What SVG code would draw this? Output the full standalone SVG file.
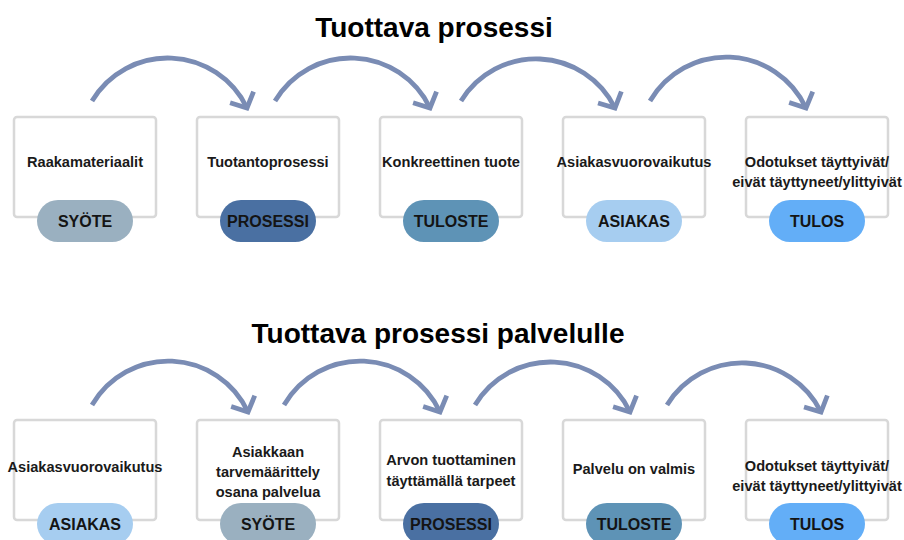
<svg xmlns="http://www.w3.org/2000/svg" width="904" height="540" viewBox="0 0 904 540">
<defs>
<style>
.title{font-family:"Liberation Sans",Arial,sans-serif;font-weight:bold;font-size:28px;fill:#000;text-anchor:middle}
.box{fill:#fff;stroke:#d8d8d8;stroke-width:2.5}
.lbl{font-family:"Liberation Sans",Arial,sans-serif;font-weight:bold;font-size:14.6px;fill:#1a1a1a;text-anchor:middle}
.pl{font-family:"Liberation Sans",Arial,sans-serif;font-weight:bold;font-size:16px;fill:#141414;text-anchor:middle}
.arc{fill:none;stroke:#7a8cb4;stroke-width:4.8;marker-end:url(#chev)}
.syote{fill:#9ab0c0}.prosessi{fill:#4a70a2}.tuloste{fill:#5e93b6}.asiakas{fill:#a6cdf0}.tulos{fill:#63aef7}
</style>
<marker id="chev" markerUnits="userSpaceOnUse" viewBox="-18 -18 22 36" markerWidth="22" markerHeight="36" refX="0" refY="0" orient="auto">
<path d="M-12,-13 L0,0 L-12,13" fill="none" stroke="#7a8cb4" stroke-width="4.8"/>
</marker>
</defs>
<rect width="904" height="540" fill="#fff"/>
<text class="title" x="434" y="37">Tuottava prosessi</text>
<text class="title" x="438" y="343">Tuottava prosessi palvelulle</text>

<g id="connectors">
<path class="arc" d="M92,101 A88,88 0 0 1 247,108"/>
<path class="arc" d="M275,101 A88,88 0 0 1 430,108"/>
<path class="arc" d="M461,101 A88,88 0 0 1 615,108"/>
<path class="arc" d="M650,101 A88,88 0 0 1 806,108"/>
<path class="arc" d="M92,405 A88,88 0 0 1 248,412"/>
<path class="arc" d="M284,405 A88,88 0 0 1 440,412"/>
<path class="arc" d="M475,405 A88,88 0 0 1 630,412"/>
<path class="arc" d="M667,405 A88,88 0 0 1 821,412"/>
</g>

<g id="t1">
<rect class="box" x="14" y="117" width="142" height="100" rx="3"/>
<text class="lbl" x="85" y="167">Raakamateriaalit</text>
<rect class="syote" x="37" y="200" width="96" height="42" rx="21"/>
<text class="pl" x="85" y="227">SYÖTE</text>
</g>
<g id="t2">
<rect class="box" x="197" y="117" width="142" height="100" rx="3"/>
<text class="lbl" x="268" y="167">Tuotantoprosessi</text>
<rect class="prosessi" x="220" y="200" width="96" height="42" rx="21"/>
<text class="pl" x="268" y="227">PROSESSI</text>
</g>
<g id="t3">
<rect class="box" x="380" y="117" width="142" height="100" rx="3"/>
<text class="lbl" x="451" y="167">Konkreettinen tuote</text>
<rect class="tuloste" x="403" y="200" width="96" height="42" rx="21"/>
<text class="pl" x="451" y="227">TULOSTE</text>
</g>
<g id="t4">
<rect class="box" x="563" y="117" width="142" height="100" rx="3"/>
<text class="lbl" x="634" y="167">Asiakasvuorovaikutus</text>
<rect class="asiakas" x="586" y="200" width="96" height="42" rx="21"/>
<text class="pl" x="634" y="227">ASIAKAS</text>
</g>
<g id="t5">
<rect class="box" x="746" y="117" width="142" height="100" rx="3"/>
<text class="lbl" x="817" y="167">Odotukset täyttyivät/</text>
<text class="lbl" x="817" y="187">eivät täyttyneet/ylittyivät</text>
<rect class="tulos" x="769" y="200" width="96" height="42" rx="21"/>
<text class="pl" x="817" y="227">TULOS</text>
</g>

<g id="b1">
<rect class="box" x="14" y="420" width="142" height="100" rx="3"/>
<text class="lbl" x="85" y="472">Asiakasvuorovaikutus</text>
<rect class="asiakas" x="37" y="503" width="96" height="42" rx="21"/>
<text class="pl" x="85" y="530">ASIAKAS</text>
</g>
<g id="b2">
<rect class="box" x="197" y="420" width="142" height="100" rx="3"/>
<text class="lbl" x="268" y="457">Asiakkaan</text>
<text class="lbl" x="268" y="477">tarvemäärittely</text>
<text class="lbl" x="268" y="497">osana palvelua</text>
<rect class="syote" x="220" y="503" width="96" height="42" rx="21"/>
<text class="pl" x="268" y="530">SYÖTE</text>
</g>
<g id="b3">
<rect class="box" x="380" y="420" width="142" height="100" rx="3"/>
<text class="lbl" x="451" y="465">Arvon tuottaminen</text>
<text class="lbl" x="451" y="486">täyttämällä tarpeet</text>
<rect class="prosessi" x="403" y="503" width="96" height="42" rx="21"/>
<text class="pl" x="451" y="530">PROSESSI</text>
</g>
<g id="b4">
<rect class="box" x="563" y="420" width="142" height="100" rx="3"/>
<text class="lbl" x="634" y="474">Palvelu on valmis</text>
<rect class="tuloste" x="586" y="503" width="96" height="42" rx="21"/>
<text class="pl" x="634" y="530">TULOSTE</text>
</g>
<g id="b5">
<rect class="box" x="746" y="420" width="142" height="100" rx="3"/>
<text class="lbl" x="817" y="471">Odotukset täyttyivät/</text>
<text class="lbl" x="817" y="491">eivät täyttyneet/ylittyivät</text>
<rect class="tulos" x="769" y="503" width="96" height="42" rx="21"/>
<text class="pl" x="817" y="530">TULOS</text>
</g>
</svg>
